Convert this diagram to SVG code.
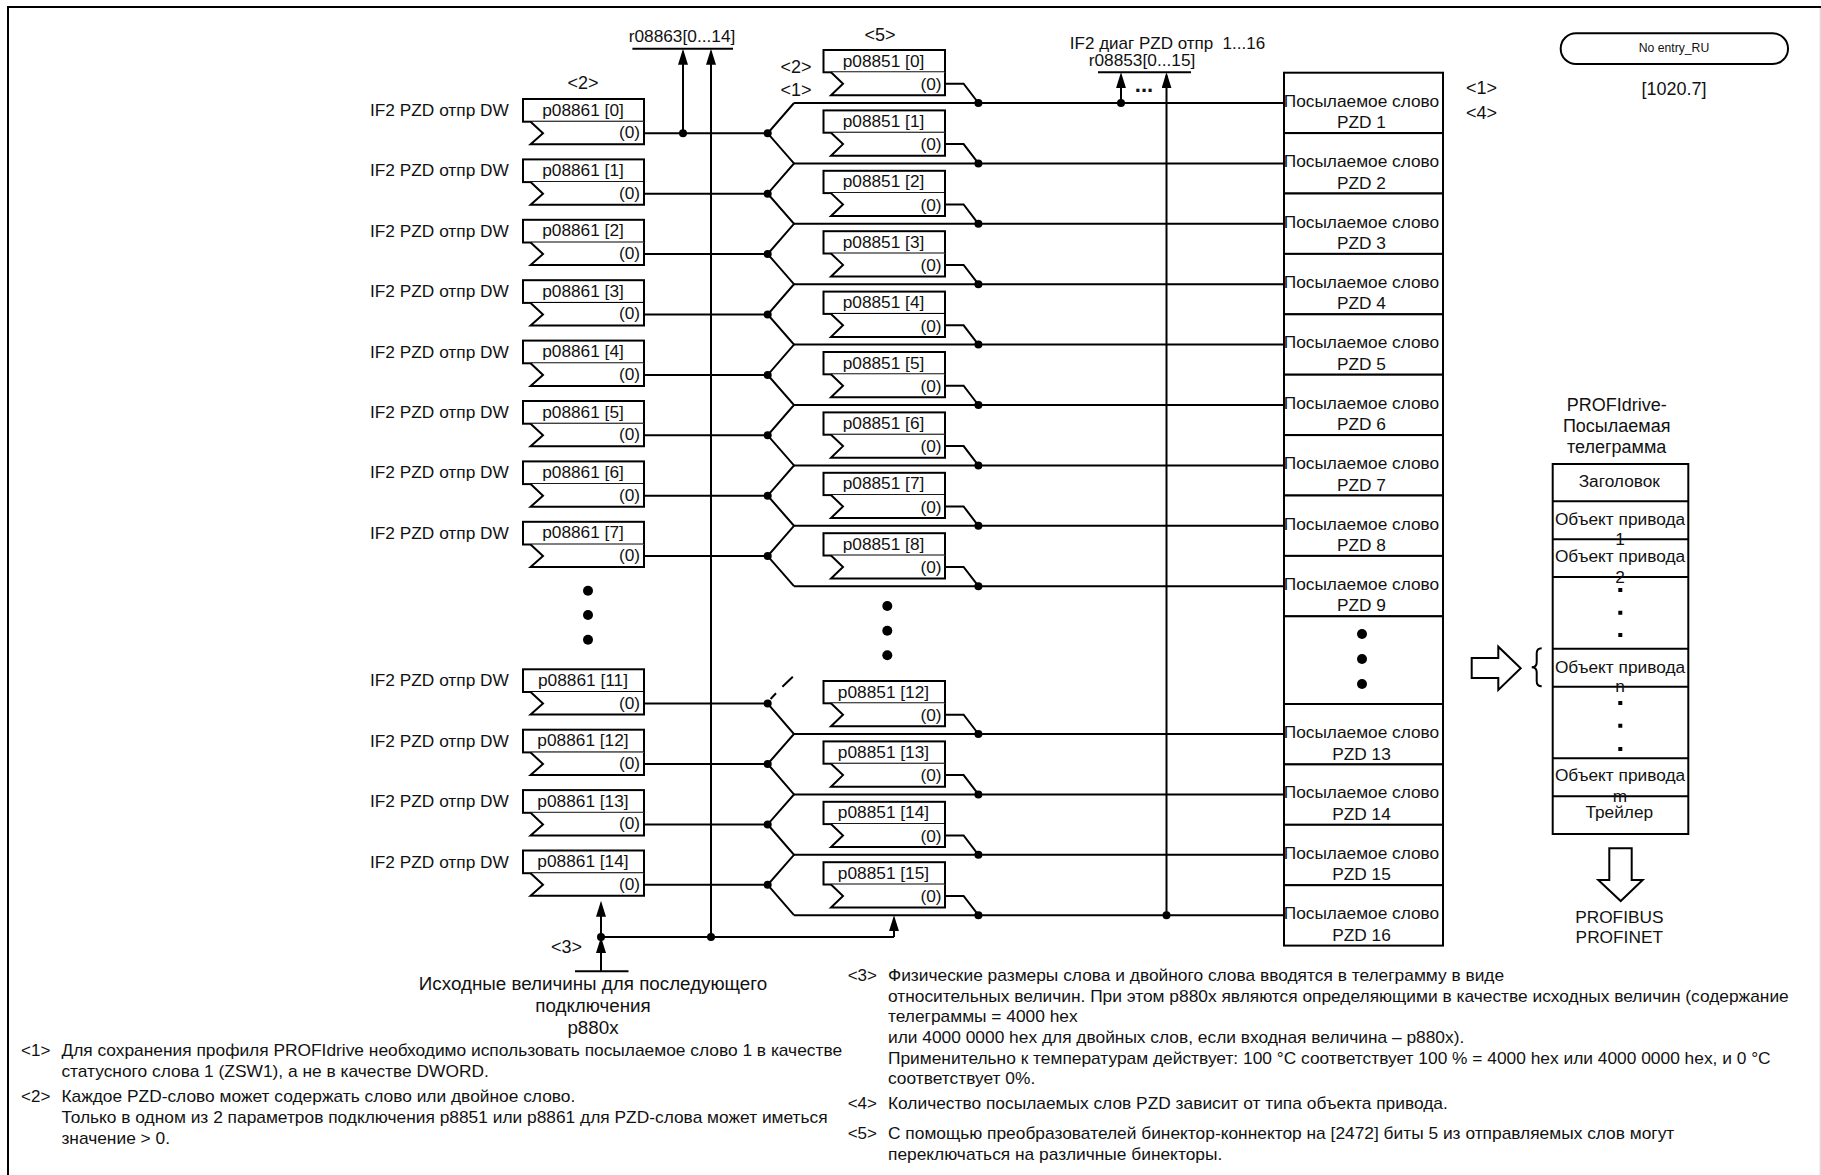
<svg xmlns="http://www.w3.org/2000/svg" width="1821" height="1175" viewBox="0 0 1821 1175">
<style>
text{font-family:"Liberation Sans",Arial,sans-serif;font-size:17.3px;fill:#111}
.m{text-anchor:middle}.e{text-anchor:end}
.n text{font-size:17.35px}
.n text.k{font-size:17px}
.s{font-size:12.2px}
.k{font-size:18px}
.h{font-size:18.8px}
.g{font-size:18px}
.b{fill:#fff;stroke:#000;stroke-width:2}
.w{fill:none;stroke:#000;stroke-width:2}
.a{fill:none;stroke:#000;stroke-width:2;marker-end:url(#ah)}
.d{fill:#000}
</style>
<defs>
<marker id="ah" markerUnits="userSpaceOnUse" markerWidth="16" markerHeight="10" refX="13" refY="5" orient="auto" viewBox="0 0 16 10"><path d="M0 0L16 5L0 10Z" fill="#000"/></marker>
<g id="lb"><rect class="b" width="121" height="22.7"/><path class="b" d="M7.6 22.7L20 34.3L7.6 45.3H121V22.7"/></g>
<g id="mb"><rect class="b" width="121.5" height="22.3"/><path class="b" d="M7.5 22.3L19.5 33.7L7.5 45.3H121.5V22.3"/></g>
<rect id="rb" class="b" width="159" height="60.4"/>
</defs>
<rect width="1821" height="1175" fill="#fff"/>
<path id="frame-right" fill="none" stroke="#ddd" stroke-width="1.5" d="M1820.3 7V1175"/>
<path id="frame" class="w" d="M8 1175V7H1821"/>
<g id="connectors">
<path class="w" d="M644 133.3H767.7M644 193.7H767.7M644 254.1H767.7M644 314.5H767.7M644 374.9H767.7M644 435.3H767.7M644 495.7H767.7M644 556.1H767.7M644 703.6H767.7M644 764H767.7M644 824.4H767.7M644 884.8H767.7"/>
<path class="w" d="M794 103L767.7 133.3L794 163.4L767.7 193.7L794 223.8L767.7 254.1L794 284.2L767.7 314.5L794 344.6L767.7 374.9L794 405L767.7 435.3L794 465.4L767.7 495.7L794 525.8L767.7 556.1L794 586.2"/>
<path class="w" d="M767.7 703.6L794 734L767.7 764L794 794.4L767.7 824.4L794 854.8L767.7 884.8L794 915.2"/>
<path class="w" d="M770.6 699L776 693.3M782.4 686.7L792.8 676.7"/>
<path class="w" d="M794 103H1284M794 163.4H1284M794 223.8H1284M794 284.2H1284M794 344.6H1284M794 405H1284M794 465.4H1284M794 525.8H1284M794 586.2H1284M794 734H1284M794 794.4H1284M794 854.8H1284M794 915.2H1284"/>
<path class="w" d="M945 83.7H963.6L978.4 103M945 144.1H963.6L978.4 163.4M945 204.5H963.6L978.4 223.8M945 264.9H963.6L978.4 284.2M945 325.3H963.6L978.4 344.6M945 385.7H963.6L978.4 405M945 446.1H963.6L978.4 465.4M945 506.5H963.6L978.4 525.8M945 566.9H963.6L978.4 586.2M945 714.7H963.6L978.4 734M945 775.1H963.6L978.4 794.4M945 835.5H963.6L978.4 854.8M945 895.9H963.6L978.4 915.2"/>
<path class="a" d="M683 133.3V51.7"/>
<path class="a" d="M711 937V51.7"/>
<path class="w" d="M632.4 48.7H733"/>
<path class="a" d="M1121 103V75.3"/>
<path class="a" d="M1166.5 915.2V75.3"/>
<path class="w" d="M1098 72.3H1191"/>
<path class="w" d="M601 937H894"/>
<path class="a" d="M894 937V918.2"/>
<path class="a" d="M601 937V903.7"/>
<path class="a" d="M601 971.3V940"/>
<path class="w" d="M575 971.3H628.5"/>
<g class="d">
<circle cx="683" cy="133.3" r="4"/><circle cx="1121" cy="103" r="4"/><circle cx="601" cy="937" r="4"/><circle cx="711" cy="937" r="4"/><circle cx="1166.5" cy="915.2" r="4"/>
<circle cx="767.7" cy="133.3" r="4"/><circle cx="767.7" cy="193.7" r="4"/><circle cx="767.7" cy="254.1" r="4"/><circle cx="767.7" cy="314.5" r="4"/><circle cx="767.7" cy="374.9" r="4"/><circle cx="767.7" cy="435.3" r="4"/><circle cx="767.7" cy="495.7" r="4"/><circle cx="767.7" cy="556.1" r="4"/><circle cx="767.7" cy="703.6" r="4"/><circle cx="767.7" cy="764" r="4"/><circle cx="767.7" cy="824.4" r="4"/><circle cx="767.7" cy="884.8" r="4"/>
<circle cx="978.4" cy="103" r="4"/><circle cx="978.4" cy="163.4" r="4"/><circle cx="978.4" cy="223.8" r="4"/><circle cx="978.4" cy="284.2" r="4"/><circle cx="978.4" cy="344.6" r="4"/><circle cx="978.4" cy="405" r="4"/><circle cx="978.4" cy="465.4" r="4"/><circle cx="978.4" cy="525.8" r="4"/><circle cx="978.4" cy="586.2" r="4"/><circle cx="978.4" cy="734" r="4"/><circle cx="978.4" cy="794.4" r="4"/><circle cx="978.4" cy="854.8" r="4"/><circle cx="978.4" cy="915.2" r="4"/>
</g>
</g>
<text class="m" x="682" y="42">r08863[0...14]</text>
<text class="m k" x="880" y="41">&lt;5&gt;</text>
<text class="m k" x="583" y="89">&lt;2&gt;</text>
<text class="m k" x="796" y="72.7">&lt;2&gt;</text>
<text class="m k" x="796" y="95.7">&lt;1&gt;</text>
<text class="m" x="1167.5" y="49.3" style="font-size:17px;white-space:pre">IF2 диаг PZD отпр  1...16</text>
<text class="m" x="1142" y="65.7">r08853[0...15]</text>
<text class="m" x="1144" y="92.3" style="font-size:22px;font-weight:bold">...</text>
<text class="k" x="1466" y="94">&lt;1&gt;</text>
<text class="k" x="1466" y="119">&lt;4&gt;</text>
<text class="m k" x="566.5" y="952.7">&lt;3&gt;</text>
<g id="p08861-0" transform="translate(523,99)"><use href="#lb"/><text x="-153" y="17">IF2 PZD отпр DW</text><text class="m" x="60" y="16.7">p08861 [0]</text><text class="e" x="117" y="39.3">(0)</text></g>
<g id="p08861-1" transform="translate(523,159.4)"><use href="#lb"/><text x="-153" y="17">IF2 PZD отпр DW</text><text class="m" x="60" y="16.7">p08861 [1]</text><text class="e" x="117" y="39.3">(0)</text></g>
<g id="p08861-2" transform="translate(523,219.8)"><use href="#lb"/><text x="-153" y="17">IF2 PZD отпр DW</text><text class="m" x="60" y="16.7">p08861 [2]</text><text class="e" x="117" y="39.3">(0)</text></g>
<g id="p08861-3" transform="translate(523,280.2)"><use href="#lb"/><text x="-153" y="17">IF2 PZD отпр DW</text><text class="m" x="60" y="16.7">p08861 [3]</text><text class="e" x="117" y="39.3">(0)</text></g>
<g id="p08861-4" transform="translate(523,340.6)"><use href="#lb"/><text x="-153" y="17">IF2 PZD отпр DW</text><text class="m" x="60" y="16.7">p08861 [4]</text><text class="e" x="117" y="39.3">(0)</text></g>
<g id="p08861-5" transform="translate(523,401)"><use href="#lb"/><text x="-153" y="17">IF2 PZD отпр DW</text><text class="m" x="60" y="16.7">p08861 [5]</text><text class="e" x="117" y="39.3">(0)</text></g>
<g id="p08861-6" transform="translate(523,461.4)"><use href="#lb"/><text x="-153" y="17">IF2 PZD отпр DW</text><text class="m" x="60" y="16.7">p08861 [6]</text><text class="e" x="117" y="39.3">(0)</text></g>
<g id="p08861-7" transform="translate(523,521.8)"><use href="#lb"/><text x="-153" y="17">IF2 PZD отпр DW</text><text class="m" x="60" y="16.7">p08861 [7]</text><text class="e" x="117" y="39.3">(0)</text></g>
<g id="p08861-11" transform="translate(523,669.3)"><use href="#lb"/><text x="-153" y="17">IF2 PZD отпр DW</text><text class="m" x="60" y="16.7">p08861 [11]</text><text class="e" x="117" y="39.3">(0)</text></g>
<g id="p08861-12" transform="translate(523,729.7)"><use href="#lb"/><text x="-153" y="17">IF2 PZD отпр DW</text><text class="m" x="60" y="16.7">p08861 [12]</text><text class="e" x="117" y="39.3">(0)</text></g>
<g id="p08861-13" transform="translate(523,790.1)"><use href="#lb"/><text x="-153" y="17">IF2 PZD отпр DW</text><text class="m" x="60" y="16.7">p08861 [13]</text><text class="e" x="117" y="39.3">(0)</text></g>
<g id="p08861-14" transform="translate(523,850.5)"><use href="#lb"/><text x="-153" y="17">IF2 PZD отпр DW</text><text class="m" x="60" y="16.7">p08861 [14]</text><text class="e" x="117" y="39.3">(0)</text></g>
<g id="p08851-0" transform="translate(823.5,50)"><use href="#mb"/><text class="m" x="60" y="16.7">p08851 [0]</text><text class="e" x="118" y="40">(0)</text></g>
<g id="p08851-1" transform="translate(823.5,110.4)"><use href="#mb"/><text class="m" x="60" y="16.7">p08851 [1]</text><text class="e" x="118" y="40">(0)</text></g>
<g id="p08851-2" transform="translate(823.5,170.8)"><use href="#mb"/><text class="m" x="60" y="16.7">p08851 [2]</text><text class="e" x="118" y="40">(0)</text></g>
<g id="p08851-3" transform="translate(823.5,231.2)"><use href="#mb"/><text class="m" x="60" y="16.7">p08851 [3]</text><text class="e" x="118" y="40">(0)</text></g>
<g id="p08851-4" transform="translate(823.5,291.6)"><use href="#mb"/><text class="m" x="60" y="16.7">p08851 [4]</text><text class="e" x="118" y="40">(0)</text></g>
<g id="p08851-5" transform="translate(823.5,352)"><use href="#mb"/><text class="m" x="60" y="16.7">p08851 [5]</text><text class="e" x="118" y="40">(0)</text></g>
<g id="p08851-6" transform="translate(823.5,412.4)"><use href="#mb"/><text class="m" x="60" y="16.7">p08851 [6]</text><text class="e" x="118" y="40">(0)</text></g>
<g id="p08851-7" transform="translate(823.5,472.8)"><use href="#mb"/><text class="m" x="60" y="16.7">p08851 [7]</text><text class="e" x="118" y="40">(0)</text></g>
<g id="p08851-8" transform="translate(823.5,533.2)"><use href="#mb"/><text class="m" x="60" y="16.7">p08851 [8]</text><text class="e" x="118" y="40">(0)</text></g>
<g id="p08851-12" transform="translate(823.5,681)"><use href="#mb"/><text class="m" x="60" y="16.7">p08851 [12]</text><text class="e" x="118" y="40">(0)</text></g>
<g id="p08851-13" transform="translate(823.5,741.4)"><use href="#mb"/><text class="m" x="60" y="16.7">p08851 [13]</text><text class="e" x="118" y="40">(0)</text></g>
<g id="p08851-14" transform="translate(823.5,801.8)"><use href="#mb"/><text class="m" x="60" y="16.7">p08851 [14]</text><text class="e" x="118" y="40">(0)</text></g>
<g id="p08851-15" transform="translate(823.5,862.2)"><use href="#mb"/><text class="m" x="60" y="16.7">p08851 [15]</text><text class="e" x="118" y="40">(0)</text></g>
<g id="pzd-1" transform="translate(1284,72.7)"><use href="#rb"/><text class="m" x="77.5" y="34">Посылаемое слово</text><text class="m" x="77.5" y="55.6">PZD 1</text></g>
<g id="pzd-2" transform="translate(1284,133.1)"><use href="#rb"/><text class="m" x="77.5" y="34">Посылаемое слово</text><text class="m" x="77.5" y="55.6">PZD 2</text></g>
<g id="pzd-3" transform="translate(1284,193.5)"><use href="#rb"/><text class="m" x="77.5" y="34">Посылаемое слово</text><text class="m" x="77.5" y="55.6">PZD 3</text></g>
<g id="pzd-4" transform="translate(1284,253.9)"><use href="#rb"/><text class="m" x="77.5" y="34">Посылаемое слово</text><text class="m" x="77.5" y="55.6">PZD 4</text></g>
<g id="pzd-5" transform="translate(1284,314.3)"><use href="#rb"/><text class="m" x="77.5" y="34">Посылаемое слово</text><text class="m" x="77.5" y="55.6">PZD 5</text></g>
<g id="pzd-6" transform="translate(1284,374.7)"><use href="#rb"/><text class="m" x="77.5" y="34">Посылаемое слово</text><text class="m" x="77.5" y="55.6">PZD 6</text></g>
<g id="pzd-7" transform="translate(1284,435.1)"><use href="#rb"/><text class="m" x="77.5" y="34">Посылаемое слово</text><text class="m" x="77.5" y="55.6">PZD 7</text></g>
<g id="pzd-8" transform="translate(1284,495.5)"><use href="#rb"/><text class="m" x="77.5" y="34">Посылаемое слово</text><text class="m" x="77.5" y="55.6">PZD 8</text></g>
<g id="pzd-9" transform="translate(1284,555.9)"><use href="#rb"/><text class="m" x="77.5" y="34">Посылаемое слово</text><text class="m" x="77.5" y="55.6">PZD 9</text></g>
<g id="pzd-dots"><rect class="b" x="1284" y="616.3" width="159" height="87.7"/><circle class="d" cx="1362" cy="634" r="5"/><circle class="d" cx="1362" cy="659" r="5"/><circle class="d" cx="1362" cy="684" r="5"/></g>
<g id="pzd-13" transform="translate(1284,704)"><use href="#rb"/><text class="m" x="77.5" y="34">Посылаемое слово</text><text class="m" x="77.5" y="55.6">PZD 13</text></g>
<g id="pzd-14" transform="translate(1284,764.4)"><use href="#rb"/><text class="m" x="77.5" y="34">Посылаемое слово</text><text class="m" x="77.5" y="55.6">PZD 14</text></g>
<g id="pzd-15" transform="translate(1284,824.8)"><use href="#rb"/><text class="m" x="77.5" y="34">Посылаемое слово</text><text class="m" x="77.5" y="55.6">PZD 15</text></g>
<g id="pzd-16" transform="translate(1284,885.2)"><use href="#rb"/><text class="m" x="77.5" y="34">Посылаемое слово</text><text class="m" x="77.5" y="55.6">PZD 16</text></g>
<g id="dots-left" class="d"><circle cx="588" cy="590.7" r="5"/><circle cx="588" cy="615" r="5"/><circle cx="588" cy="639.7" r="5"/></g>
<g id="dots-mid" class="d"><circle cx="887.3" cy="606" r="5"/><circle cx="887.3" cy="630.7" r="5"/><circle cx="887.3" cy="655.3" r="5"/></g>
<g id="source"><text class="m h" x="593" y="990">Исходные величины для последующего</text><text class="m h" x="593" y="1012">подключения</text><text class="m h" x="593" y="1034">p880x</text></g>
<g id="no-entry"><rect class="b" x="1560.7" y="33.3" width="227.3" height="30.7" rx="15.3"/><text class="m s" x="1674" y="52.3">No entry_RU</text></g>
<text class="m k" x="1674" y="95">[1020.7]</text>
<g id="telegram">
<text class="m g" x="1616.7" y="410.7">PROFIdrive-</text><text class="m g" x="1616.7" y="431.7">Посылаемая</text><text class="m g" x="1616.7" y="452.7">телеграмма</text>
<rect class="b" x="1552.7" y="464" width="135.6" height="370"/>
<path class="w" d="M1552.7 501.3H1688.3M1552.7 539.3H1688.3M1552.7 577H1688.3M1552.7 648.7H1688.3M1552.7 686.7H1688.3M1552.7 758.3H1688.3M1552.7 796.3H1688.3"/>
<text class="m" x="1619.3" y="486.7">Заголовок</text>
<text class="m" x="1620" y="525">Объект привода</text><text class="m" x="1620" y="545">1</text>
<text class="m" x="1620" y="561.7">Объект привода</text><text class="m" x="1620" y="583">2</text>
<text class="m" x="1620" y="672.7">Объект привода</text><text class="m" x="1620" y="692">n</text>
<text class="m" x="1620" y="781">Объект привода</text><text class="m" x="1620" y="801.7">m</text>
<text class="m" x="1619.3" y="818">Трейлер</text>
<path fill="#000" d="M1618.3 588h4v4h-4zM1618.3 610.7h4v4h-4zM1618.3 633h4v4h-4zM1618.3 701h4v4h-4zM1618.3 723.7h4v4h-4zM1618.3 747h4v4h-4z"/>
</g>
<path id="arrow-right" class="b" d="M1471.7 658H1498.3V646.7L1520.7 668.3L1498.3 690V678H1471.7Z"/>
<path id="brace" class="w" d="M1541.7 648.3q-5 0-5 5v9q0 5-5 5q5 0 5 5v9q0 5 5 5"/>
<path id="arrow-down" class="b" d="M1609.3 848.3H1631.7V880H1642.7L1620.7 901L1598.3 880H1609.3Z"/>
<text class="m" x="1619.3" y="922.7">PROFIBUS</text><text class="m" x="1619.3" y="943.3">PROFINET</text>
<g class="n" id="notes">
<text class="k" x="21" y="1056">&lt;1&gt;</text><text x="61.4" y="1056">Для сохранения профиля PROFIdrive необходимо использовать посылаемое слово 1 в качестве</text>
<text x="61.4" y="1077.3">статусного слова 1 (ZSW1), а не в качестве DWORD.</text>
<text class="k" x="21" y="1101.7">&lt;2&gt;</text><text x="61.4" y="1101.7">Каждое PZD-слово может содержать слово или двойное слово.</text>
<text x="61.4" y="1122.7">Только в одном из 2 параметров подключения p8851 или p8861 для PZD-слова может иметься</text>
<text x="61.4" y="1144">значение &gt; 0.</text>
<text class="k" x="847.7" y="980.7">&lt;3&gt;</text><text x="888" y="980.7">Физические размеры слова и двойного слова вводятся в телеграмму в виде</text>
<text x="888" y="1001.7">относительных величин. При этом p880x являются определяющими в качестве исходных величин (содержание</text>
<text x="888" y="1022.3">телеграммы = 4000 hex</text>
<text x="888" y="1043.3">или 4000 0000 hex для двойных слов, если входная величина – p880x).</text>
<text x="888" y="1064">Применительно к температурам действует: 100 °C соответствует 100 % = 4000 hex или 4000 0000 hex, и 0 °C</text>
<text x="888" y="1084.3">соответствует 0%.</text>
<text class="k" x="847.7" y="1109">&lt;4&gt;</text><text x="888" y="1109">Количество посылаемых слов PZD зависит от типа объекта привода.</text>
<text class="k" x="847.7" y="1139.3">&lt;5&gt;</text><text x="888" y="1139.3">С помощью преобразователей бинектор-коннектор на [2472] биты 5 из отправляемых слов могут</text>
<text x="888" y="1160">переключаться на различные бинекторы.</text>
</g>
</svg>
